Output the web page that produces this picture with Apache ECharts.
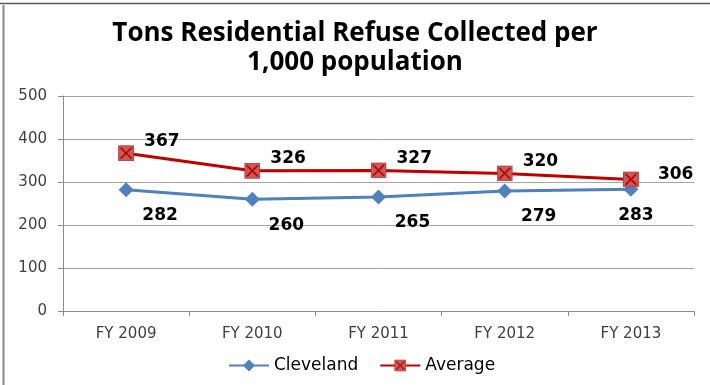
<!DOCTYPE html>
<html>
<head>
<meta charset="utf-8">
<script src="https://cdn.jsdelivr.net/npm/echarts@6/dist/echarts.min.js"></script>
<style>
html,body{margin:0;padding:0;background:#fff;}
#chart{width:710px;height:385px;}
</style>
</head>
<body>
<div id="chart"></div>
<script>
const categories = ['FY 2009', 'FY 2010', 'FY 2011', 'FY 2012', 'FY 2013'];
const cleveland = [282, 260, 265, 279, 283];
const average = [367, 326, 327, 320, 306];
const yTicks = [0, 100, 200, 300, 400, 500];

const avgSvg = "<svg xmlns='http://www.w3.org/2000/svg' width='16' height='16'>" +
  "<rect x='0.5' y='0.5' width='15' height='15' fill='#c55a58' stroke='#b83a38'/>" +
  "<path d='M2.5 2.5L13.5 13.5M13.5 2.5L2.5 13.5' stroke='#c00000' stroke-width='1.6'/></svg>";
const avgSymbol = 'image://data:image/svg+xml;charset=utf-8,' + encodeURIComponent(avgSvg);

const chart = echarts.init(document.getElementById('chart'), null, {renderer: 'canvas'});
const labelFont = {fontFamily: 'DejaVu Sans', fontWeight: 'bold', fontSize: 17, color: '#000'};

chart.setOption({
  animation: false,
  backgroundColor: '#fff',
  graphic: [
    {type: 'text', left: 20, top: -32, style: {text: 'Workload Measures', font: 'bold 40px "Open Sans"', fill: '#3a5a8c'}},
    {type: 'line', shape: {x1: 0, y1: 3.5, x2: 710, y2: 3.5}, style: {stroke: '#4a5a78', lineWidth: 1.5}},
    {type: 'line', shape: {x1: 3.5, y1: 5, x2: 3.5, y2: 385}, style: {stroke: '#8a8a8a', lineWidth: 2}}
  ],
  title: {
    text: 'Tons Residential Refuse Collected per\n1,000 population',
    left: 'center',
    top: 14,
    textStyle: {fontFamily: 'Open Sans', fontWeight: 'bold', fontSize: 26, lineHeight: 29, color: '#000'}
  },
  legend: {
    top: 352,
    left: 223,
    itemWidth: 40,
    itemHeight: 15,
    itemGap: 21,
    textStyle: {fontFamily: 'DejaVu Sans', fontSize: 17, color: '#000'},
    data: ['Cleveland', 'Average']
  },
  grid: {left: 63, right: 16, top: 96, bottom: 74},
  xAxis: {
    type: 'category',
    data: categories,
    boundaryGap: true,
    axisLine: {lineStyle: {color: '#8c8c8c', width: 1}},
    axisTick: {show: true, length: 5, lineStyle: {color: '#8c8c8c'}},
    axisLabel: {fontFamily: 'DejaVu Sans', fontSize: 15, color: '#404040', margin: 16}
  },
  yAxis: {
    type: 'value',
    min: yTicks[0],
    max: yTicks[yTicks.length - 1],
    interval: 100,
    axisLine: {show: true, lineStyle: {color: '#8c8c8c', width: 1}},
    axisTick: {show: true, length: 5, lineStyle: {color: '#8c8c8c'}},
    axisLabel: {fontFamily: 'DejaVu Sans', fontSize: 15, color: '#404040', margin: 16},
    splitLine: {lineStyle: {color: '#a6a6a6', width: 1}}
  },
  series: [
    {
      name: 'Cleveland',
      type: 'line',
      data: cleveland.map((v, i) => i === 4 ? {value: v, label: {offset: [5, 5]}} : v),
      color: '#4f81bd',
      lineStyle: {width: 3, color: '#4f81bd'},
      symbol: 'diamond',
      symbolSize: 15,
      itemStyle: {color: '#4f81bd'},
      label: Object.assign({show: true, position: 'bottom', offset: [34, 5]}, labelFont),
      z: 2
    },
    {
      name: 'Average',
      type: 'line',
      data: average.map((v, i) => i === 4 ? {value: v, label: {offset: [14, -5]}} : v),
      color: '#c00000',
      lineStyle: {width: 3, color: '#c00000'},
      symbol: avgSymbol,
      symbolSize: 16,
      itemStyle: {color: '#c00000'},
      label: Object.assign({show: true, position: 'right', offset: [5, -12]}, labelFont),
      z: 3
    }
  ]
});
</script>
</body>
</html>
